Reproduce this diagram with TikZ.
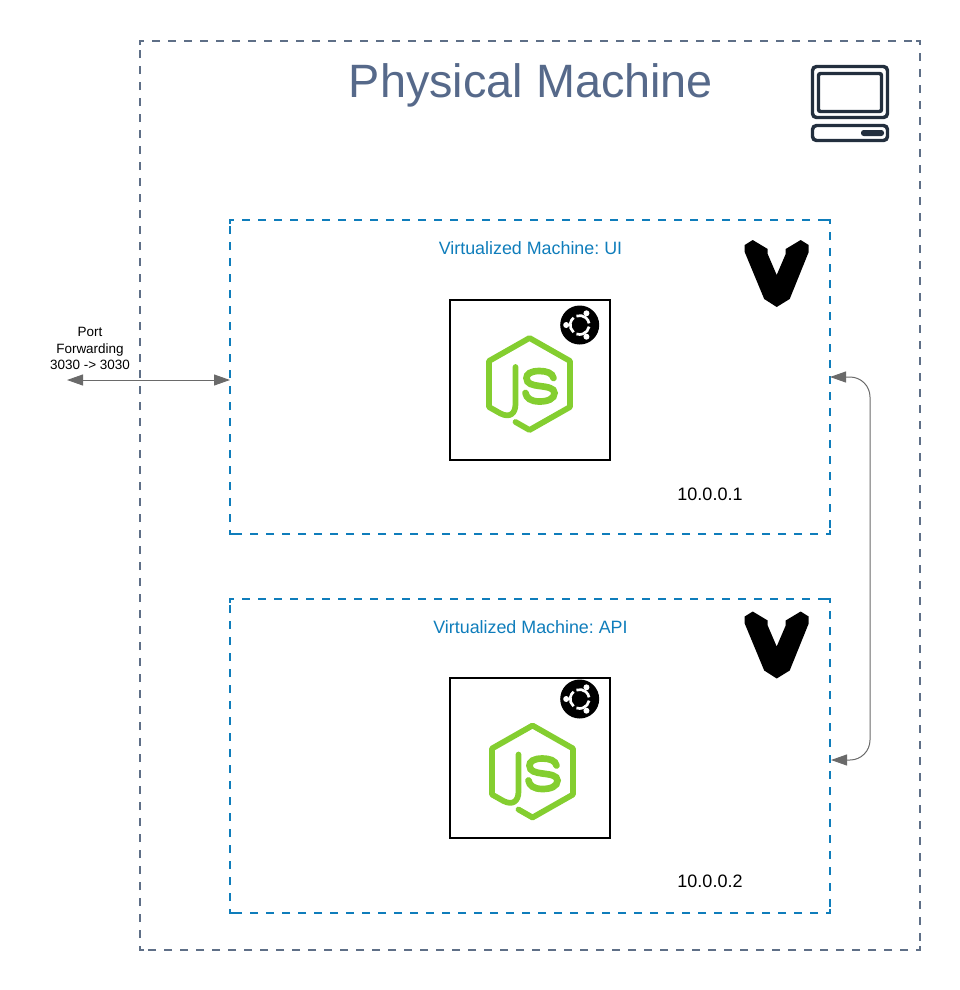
\documentclass[tikz,border=0pt]{standalone}
\usepackage{fontspec}
\setmainfont{Liberation Sans}
\usetikzlibrary{arrows.meta}
\definecolor{outerdash}{HTML}{5E6F87}
\definecolor{titlecol}{HTML}{56698A}
\definecolor{vmblue}{HTML}{0F7DBB}
\definecolor{icondark}{HTML}{232F3E}
\definecolor{nodegreen}{HTML}{84CE30}
\definecolor{conngray}{HTML}{6A6A6A}
\tikzset{
  physbox/.style={minimum width=585pt,minimum height=681.75pt,inner sep=0pt,outer sep=0pt},
  vmbox/.style={minimum width=450pt,minimum height=235.5pt,inner sep=0pt,outer sep=0pt},
  physedge/.style={draw=outerdash,line width=1.6pt},
  vmedge/.style={draw=vmblue,line width=1.6pt},
  appbox/.style={draw=black,line width=1.5pt,minimum width=120pt,minimum height=120pt,inner sep=0pt,outer sep=0pt},
  titletext/.style={text=titlecol,font=\fontsize{35.1}{40}\selectfont},
  vmtext/.style={text=vmblue,font=\fontsize{13.4}{16}\selectfont\frenchspacing},
  iptext/.style={text=black,font=\fontsize{13.5}{16}\selectfont},
  porttext/.style={text=black,align=center,font=\fontsize{10.1}{12.2}\selectfont},
  conn/.style={draw=conngray,line width=0.75pt,{Triangle[length=12pt,width=8.25pt]}-{Triangle[length=12pt,width=8.25pt]}},
  iconline/.style={draw=icondark,line width=2.6pt,rounded corners=3pt},
  nodejs/.pic={
    \draw[nodegreen,line width=4.3pt,line join=round,line cap=round]
      (-14,38) -- (0,46) -- (40.5,23) -- (40.5,-23) -- (0,-46) -- (-40.5,-23) -- (-40.5,23) -- (-29,29.5)
      .. controls (-20,34) and (-14,30) .. (-14,20) -- (-14,-17);
    \draw[nodegreen,line width=5pt,line cap=round]
      (24,-6) .. controls (23,-11) and (17,-13) .. (10,-13)
      .. controls (1,-13) and (-3,-10) .. (-3,-6)
      .. controls (-3,0) and (3,1) .. (10,2)
      .. controls (18,3) and (25,4) .. (25,9)
      .. controls (25,15) and (18,17.5) .. (10,17.5)
      .. controls (1,17.5) and (-3,14) .. (-4,9);
  },
  ubuntu/.pic={
    \fill[black] (0,0) circle[radius=19.5];
    \foreach \a in {10,130,250}{
      \draw[white,line width=2pt] (\a:9.5) arc[start angle=\a,end angle=\a+100,radius=9.5];
    }
    \foreach \a in {180,60,-60}{
      \fill[white] (\a:13.5) circle[radius=3];
    }
  },
  vagrant/.pic={
    \fill[black] (-32,-33) -- (-24,-38) -- (-9,-29) -- (-9,-24) -- (0,-3) -- (9,-24) -- (9,-29) -- (24,-38) -- (32,-33) -- (32,-26) -- (13,21) -- (0,29) -- (-12.5,21) -- (-32,-26) -- cycle;
  },
}
% dashed outline of a box: each side starts at its corner, and each corner has a short solid L
\newcommand\edgedbox[2]{%
  \draw[#2,dash pattern=on 6pt off 6pt,dash phase=3pt] (#1.north west) -- (#1.north east);
  \draw[#2,dash pattern=on 6pt off 6pt,dash phase=3pt] (#1.north east) -- (#1.south east);
  \draw[#2,dash pattern=on 6pt off 6pt,dash phase=3pt] (#1.south east) -- (#1.south west);
  \draw[#2,dash pattern=on 6pt off 6pt,dash phase=3pt] (#1.south west) -- (#1.north west);
  \draw[#2] (#1.north west) ++(0,4) -- ++(0,-4) -- ++(4,0);
  \draw[#2] (#1.north east) ++(-4,0) -- ++(4,0) -- ++(0,4);
  \draw[#2] (#1.south east) ++(0,-4) -- ++(0,4) -- ++(-4,0);
  \draw[#2] (#1.south west) ++(4,0) -- ++(-4,0) -- ++(0,-4);
}
\begin{document}
\begin{tikzpicture}[x=0.75pt,y=-0.75pt]
\useasboundingbox (0,0) rectangle (960,990);
\node[physbox] (physical) at (530,495.5) {};
\node[vmbox] (vmui) at (530,377) {};
\node[vmbox] (vmapi) at (530,756) {};
\edgedbox{physical}{physedge}
\edgedbox{vmui}{vmedge}
\edgedbox{vmapi}{vmedge}
\node[appbox] (appui) at (530,380) {};
\node[appbox] (appapi) at (530,758) {};
\node[titletext] (title) at (531,85.5) {Physical Machine};
\node[vmtext] (vmuilabel) at (530.5,248) {Virtualized Machine: UI};
\node[vmtext] (vmapilabel) at (530.5,627) {Virtualized Machine: API};
\node[iptext] (ipui) at (710,494) {10.0.0.1};
\node[iptext] (ipapi) at (710,881) {10.0.0.2};
\node[porttext] (port) at (90,348.5) {Port\\Forwarding\\3030 -> 3030};
\pic at (529.5,384) {nodejs};
\pic at (532.5,771.5) {nodejs};
\pic at (579.7,325) {ubuntu};
\pic at (579.7,699) {ubuntu};
\pic at (776.7,278) {vagrant};
\pic at (776.7,649.5) {vagrant};
% computer icon
\draw[iconline] (812.5,66.5) rectangle (887.5,117.5);
\draw[iconline,rounded corners=1.5pt] (818.5,73.5) rectangle (881.5,111.5);
\draw[iconline] (812.5,125.5) rectangle (887.5,140.5);
\fill[icondark,rounded corners=2pt] (861,130) rectangle (884,136);
% connectors
\coordinate (portend) at (67,380);
\coordinate (apiport) at (831,760);
\draw[conn] (portend) -- (vmui.west |- portend);
\draw[conn,rounded corners=15pt] (vmui.east) -- ++(40,0) |- (apiport);
\end{tikzpicture}
\end{document}
